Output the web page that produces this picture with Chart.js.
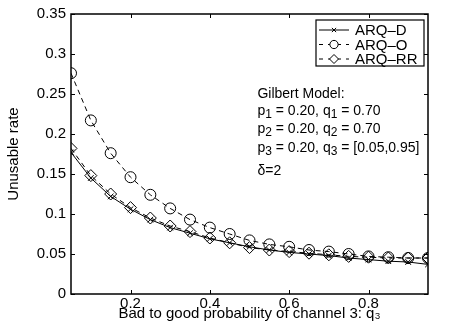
<!DOCTYPE html>
<html>
<head>
<meta charset="utf-8">
<script src="https://cdn.jsdelivr.net/npm/chart.js@4.4.1/dist/chart.umd.min.js"></script>
<style>
html,body{margin:0;padding:0;background:#fff;}
</style>
</head>
<body>
<canvas id="grafico" width="449" height="335"></canvas>
<script>

let q3 = [0.05,0.10,0.15,0.20,0.25,0.30,0.35,0.40,0.45,0.50,0.55,0.60,0.65,0.70,0.75,0.80,0.85,0.90,0.95];

let arqD = [0.177,0.145,0.122,0.106,0.093,0.083,0.076,0.069,0.064,0.059,0.055,0.052,0.050,0.048,0.045,0.043,0.041,0.040,0.037];
let arqO = [0.276,0.217,0.176,0.146,0.124,0.107,0.093,0.083,0.075,0.067,0.062,0.059,0.055,0.053,0.050,0.047,0.046,0.045,0.045];
let arqRR = [0.182,0.148,0.125,0.108,0.095,0.085,0.078,0.070,0.064,0.058,0.055,0.053,0.051,0.049,0.047,0.046,0.045,0.045,0.045];

let xTicks = [0.2,0.4,0.6,0.8];
let nombres = ["ARQ\u2013D","ARQ\u2013O","ARQ\u2013RR"];

// lines of the text box, [text, subscript] pieces
let notas = [
[["Gilbert Model:",""]],
[["p",""],["","1"],[" = 0.20, q",""],["","1"],[" = 0.70",""]],
[["p",""],["","2"],[" = 0.20, q",""],["","2"],[" = 0.70",""]],
[["p",""],["","3"],[" = 0.20, q",""],["","3"],[" = [0.05,0.95]",""]],
[["\u03b4=2",""]]
];

let fuente = "Liberation Sans, Arial, sans-serif";

function puntos(serie){
return q3.map((q,i)=>({x:q, y:serie[i]}));
}

// box, inward ticks, legend and text
let marco = {
id: "marco",
afterDraw(chart){
let ctx = chart.ctx;
let a = chart.chartArea;
let xs = chart.scales.x;
let ys = chart.scales.y;
ctx.save();
ctx.strokeStyle = "#000";
ctx.lineWidth = 1;
ctx.beginPath();
xs.ticks.forEach(t=>{
let px = Math.round(xs.getPixelForValue(t.value)) + 0.5;
ctx.moveTo(px, a.bottom); ctx.lineTo(px, a.bottom - 4);
ctx.moveTo(px, a.top); ctx.lineTo(px, a.top + 4);
});
ys.ticks.forEach(t=>{
let py = Math.round(ys.getPixelForValue(t.value)) + 0.5;
ctx.moveTo(a.left, py); ctx.lineTo(a.left + 4, py);
ctx.moveTo(a.right, py); ctx.lineTo(a.right - 4, py);
});
ctx.stroke();
ctx.lineWidth = 1.5;
ctx.strokeRect(a.left, a.top, a.right - a.left, a.bottom - a.top);

// legend
let bx = a.right - 112, by = a.top + 6, bw = 108, bh = 46;
ctx.fillStyle = "#fff";
ctx.fillRect(bx, by, bw, bh);
ctx.lineWidth = 1.2;
ctx.strokeRect(bx, by, bw, bh);
chart.data.datasets.forEach((ds,i)=>{
let cy = by + 10 + i * 14.5;
ctx.lineWidth = 1;
ctx.setLineDash(ds.borderDash ? [4,5] : []);
ctx.beginPath();
ctx.moveTo(bx + 3, cy); ctx.lineTo(bx + 33, cy);
ctx.stroke();
ctx.setLineDash([]);
ctx.fillStyle = "#fff";
Chart.helpers.drawPoint(ctx, {pointStyle: ds.pointStyle, radius: ds.pointRadius * 0.75, borderWidth: 1}, bx + 18, cy);
ctx.fillStyle = "#000";
ctx.font = "15px " + fuente;
ctx.textBaseline = "middle";
ctx.fillText(nombres[i], bx + 39, cy + 1);
});

// text box
let tx = xs.getPixelForValue(0.52);
let ty = [94, 111, 129, 148, 171];
ctx.textBaseline = "middle";
ctx.fillStyle = "#000";
notas.forEach((linea,j)=>{
let x = tx;
linea.forEach(p=>{
if(p[0]){
ctx.font = "14px " + fuente;
ctx.fillText(p[0], x, ty[j]);
x += ctx.measureText(p[0]).width;
}
if(p[1]){
ctx.font = "12px " + fuente;
ctx.fillText(p[1], x, ty[j] + 4);
x += ctx.measureText(p[1]).width;
}
});
});
ctx.restore();
}
};

let ctx = document.getElementById("grafico").getContext("2d");

new Chart(ctx, {
type: "line",
data: {
datasets: [
{
label: nombres[0],
data: puntos(arqD),
borderColor: "#000",
backgroundColor: "#000",
borderWidth: 1,
pointStyle: "crossRot",
pointRadius: 4,
pointBorderWidth: 1,
tension: 0
},
{
label: nombres[1],
data: puntos(arqO),
borderColor: "#000",
backgroundColor: "transparent",
borderWidth: 1,
borderDash: [5,4],
pointStyle: "circle",
pointRadius: 5.5,
pointBorderWidth: 1,
tension: 0
},
{
label: nombres[2],
data: puntos(arqRR),
borderColor: "#000",
backgroundColor: "transparent",
borderWidth: 1,
borderDash: [5,4],
pointStyle: "rectRot",
pointRadius: 6,
pointBorderWidth: 1,
tension: 0
}
]
},
options: {
responsive: false,
animation: false,
layout: {padding: {left: 0, top: 10, right: 21, bottom: 14}},
plugins: {
legend: {display: false},
tooltip: {enabled: false}
},
scales: {
x: {
type: "linear",
min: 0.05,
max: 0.95,
afterBuildTicks: s => { s.ticks = xTicks.map(v=>({value:v})); },
afterFit: s => { s.height = 27; },
grid: {display: false, drawTicks: false},
border: {display: false},
ticks: {color: "#000", padding: 2, maxRotation: 0, font: {family: fuente, size: 15, lineHeight: 1}},
title: {display: true, text: "Bad to good probability of channel 3: q\u2083", color: "#000", padding: {top: 0, bottom: 0}, font: {family: fuente, size: 15, lineHeight: 1}}
},
y: {
min: 0,
max: 0.35,
afterFit: s => { s.width = 71; },
grid: {display: false, drawTicks: false},
border: {display: false},
ticks: {color: "#000", stepSize: 0.05, padding: 5, font: {family: fuente, size: 15},
callback: v => String(Number(v.toFixed(2)))},
title: {display: true, text: "Unusable rate", color: "#000", padding: {top: 5, bottom: 0}, font: {family: fuente, size: 15}}
}
}
},
plugins: [marco]
});

</script>
</body>
</html>
